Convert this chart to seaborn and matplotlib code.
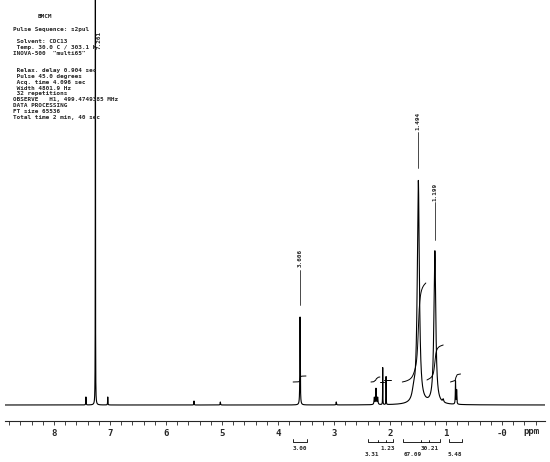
"""
1H NMR spectrum of BMCM in CDCl3 (INOVA-500), redrawn with seaborn.
"""

import matplotlib
matplotlib.use("Agg")
import matplotlib.pyplot as plt
import numpy as np
import pandas as pd
import seaborn as sns
from matplotlib.ticker import FixedLocator, MultipleLocator

# peak list: shift (ppm), height (px above baseline), half width (ppm)
peak_ppm = [7.43, 7.261, 7.04, 5.50, 5.03, 3.606, 2.96, 2.28, 2.25, 2.22,
            2.13, 2.07, 1.58, 1.494, 1.199, 1.05, 0.83, 0.81]
peak_height = [8, 700, 8, 4, 3, 88, 3, 7, 16, 7,
               37, 28, 8, 223, 153, 3, 23, 14]
peak_hwhm = [0.003, 0.0015, 0.003, 0.003, 0.004, 0.004, 0.004, 0.006, 0.006, 0.006,
             0.002, 0.002, 0.03, 0.022, 0.02, 0.01, 0.004, 0.004]

# labelled peaks: shift, label centre height
label_ppm = [7.261, 3.606, 1.494, 1.199]
label_x = [7.19, 3.606, 1.494, 1.199]
label_text = ["7.261", "3.606", "1.494", "1.199"]
label_y = [365, 147, 284, 213]
label_line = [(0, 0), (100, 135), (237, 273), (165, 203)]

# integral regions: start ppm, end ppm, offset, rise
integ_start = [3.73, 2.34, 2.17, 2.10, 1.78, 1.34, 0.92]
integ_end = [3.50, 2.18, 2.11, 1.98, 1.36, 1.05, 0.74]
integ_offset = [23, 23, 23, 25, 23, 25, 23]
integ_rise = [6, 5, 0, 0, 99, 35, 8]

# integral brackets under the scale
bracket_start = [3.73, 2.39, 1.77, 0.95]
bracket_end = [3.48, 1.95, 1.11, 0.71]
bracket_inner = [[], [2.22, 2.07], [1.45, 1.30], []]
integ_values = ["3.00", "3.31", "1.23", "67.09", "30.21", "5.48"]
integ_value_ppm = [3.606, 2.32, 2.04, 1.60, 1.29, 0.84]
integ_value_row = [0, 1, 0, 1, 0, 1]

header_lines = [
    "Pulse Sequence: s2pul",
    "",
    " Solvent: CDC13",
    " Temp. 30.0 C / 303.1 K",
    "INOVA-500  \"multi65\"",
    "",
    "",
    " Relax. delay 0.904 sec",
    " Pulse 45.0 degrees",
    " Acq. time 4.096 sec",
    " Width 4801.9 Hz",
    " 32 repetitions",
    "OBSERVE   H1, 499.4749385 MHz",
    "DATA PROCESSING",
    "FT size 65536",
    "Total time 2 min, 40 sec",
]

sns.set_style("white")
mono = {"family": "DejaVu Sans Mono", "weight": "bold"}

ppm = np.linspace(9.0, -0.9, 40000)
intensity = np.zeros_like(ppm)
for p, h, w in zip(peak_ppm, peak_height, peak_hwhm):
    intensity += h / (1 + ((ppm - p) / w) ** 2)
spec = pd.DataFrame({"ppm": ppm, "intensity": intensity})

fig = plt.figure(figsize=(5.5, 4.62), dpi=100)
ax = fig.add_axes([5 / 550, (462 - 421) / 462, 540 / 550, 421 / 462])

sns.lineplot(data=spec, x="ppm", y="intensity", color="black", linewidth=0.8,
             ax=ax, sort=False, estimator=None)

# integral traces
for s, e, off, rise in zip(integ_start, integ_end, integ_offset, integ_rise):
    seg = spec[(spec.ppm <= s) & (spec.ppm >= e)]
    cum = seg.intensity.cumsum().to_numpy()
    cum = cum / cum[-1] if cum[-1] > 0 else cum
    sns.lineplot(x=seg.ppm.to_numpy(), y=off + rise * cum, color="black",
                 linewidth=0.7, ax=ax, sort=False, estimator=None)

# peak labels
for p, px, t, y, (l0, l1) in zip(label_ppm, label_x, label_text, label_y, label_line):
    ax.text(px, y, t, rotation=90, ha="center", va="center", fontsize=4.3, **mono)
    if l1 > l0:
        ax.plot([p, p], [l0, l1], color="black", linewidth=0.5)

ax.set_xlim(8.875, -0.768)
ax.set_ylim(-16, 405)
for side in ["top", "left", "right"]:
    ax.spines[side].set_visible(False)
ax.spines["bottom"].set_linewidth(0.8)
ax.set_yticks([])
ax.xaxis.set_major_locator(FixedLocator(range(0, 9)))
ax.xaxis.set_minor_locator(MultipleLocator(0.2))
ax.set_xticklabels(["-0"] + [str(i) for i in range(1, 9)], fontsize=6.5, **mono)
ax.tick_params(axis="x", which="both", direction="out", length=3, width=0.6, pad=3,
               bottom=True)
ax.set_xlabel("")
ax.set_ylabel("")
ax.text(-0.52, -27, "ppm", fontsize=6.5, ha="center", va="center", clip_on=False, **mono)

# integral brackets and values
for s, e, inner in zip(bracket_start, bracket_end, bracket_inner):
    ax.plot([s, s, e, e], [-34, -37, -37, -34], color="black", linewidth=0.6, clip_on=False)
    for i in inner:
        ax.plot([i, i], [-37, -35], color="black", linewidth=0.6, clip_on=False)
for v, p, row in zip(integ_values, integ_value_ppm, integ_value_row):
    ax.text(p, -44 - 5 * row, v, fontsize=4.3, ha="center", va="center",
            clip_on=False, **mono)

fig.text(45 / 550, 1 - 17 / 462, "BMCM", fontsize=4.3, ha="center", va="center", **mono)
for i, line in enumerate(header_lines):
    if line:
        fig.text(13 / 550, 1 - (30 + 5.8 * i) / 462, line, fontsize=4.3,
                 ha="left", va="center", **mono)

fig.savefig("out.png", dpi=100, facecolor="white")
plt.close(fig)
